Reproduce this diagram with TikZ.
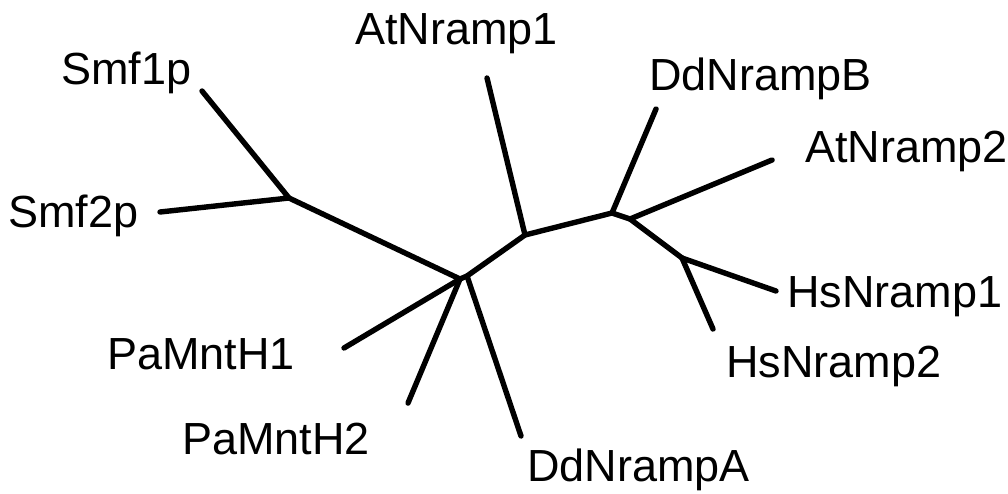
\documentclass[tikz,border=0pt]{standalone}
\usepackage{fontspec}
\setmainfont{Liberation Sans}
\begin{document}
\begin{tikzpicture}[x=1pt,y=-1pt,
  branch/.style={line width=5.4pt,line cap=round,line join=round},
  taxon/.style={anchor=base west,inner sep=0pt,font=\fontsize{45}{54}\selectfont}]
\useasboundingbox (0,0) rectangle (1008,493);
% internal nodes of the unrooted tree
\coordinate (A)  at (289,198);
\coordinate (B1) at (460,279);
\coordinate (B2) at (467,276);
\coordinate (C)  at (525,235);
\coordinate (D1) at (612,213);
\coordinate (D2) at (630,219);
\coordinate (E)  at (682,258);
% leaf tips
\coordinate (s1) at (202,91);
\coordinate (s2) at (160,212);
\coordinate (p1) at (344,348);
\coordinate (p2) at (408,403);
\coordinate (dA) at (521,436);
\coordinate (a1) at (487,78);
\coordinate (dB) at (656,109);
\coordinate (a2) at (772,160);
\coordinate (h1) at (776,291);
\coordinate (h2) at (713,329);
% branches
\draw[branch] (s1) -- (A) -- (s2);
\draw[branch] (A) -- (B1) -- (B2) -- (C) -- (D1) -- (D2) -- (E);
\draw[branch] (B1) -- (p1);
\draw[branch] (B1) -- (p2);
\draw[branch] (B2) -- (dA);
\draw[branch] (C) -- (a1);
\draw[branch] (D1) -- (dB);
\draw[branch] (D2) -- (a2);
\draw[branch] (E) -- (h1);
\draw[branch] (E) -- (h2);
% taxon labels
\node[taxon] (lSmf1p)  at (61,84)   {Smf1p};
\node[taxon] (lSmf2p)  at (8,227)   {Smf2p};
\node[taxon] (lPaH1)   at (107,369) {PaMntH1};
\node[taxon] (lPaH2)   at (182,454) {PaMntH2};
\node[taxon] (lDdA)    at (527,481) {DdNrampA};
\node[taxon] (lAt1)    at (355,44)  {AtNramp1};
\node[taxon] (lDdB)    at (649,90)  {DdNrampB};
\node[taxon] (lAt2)    at (805,162) {AtNramp2};
\node[taxon] (lHs1)    at (787,307) {HsNramp1};
\node[taxon] (lHs2)    at (726,377) {HsNramp2};
\end{tikzpicture}
\end{document}
